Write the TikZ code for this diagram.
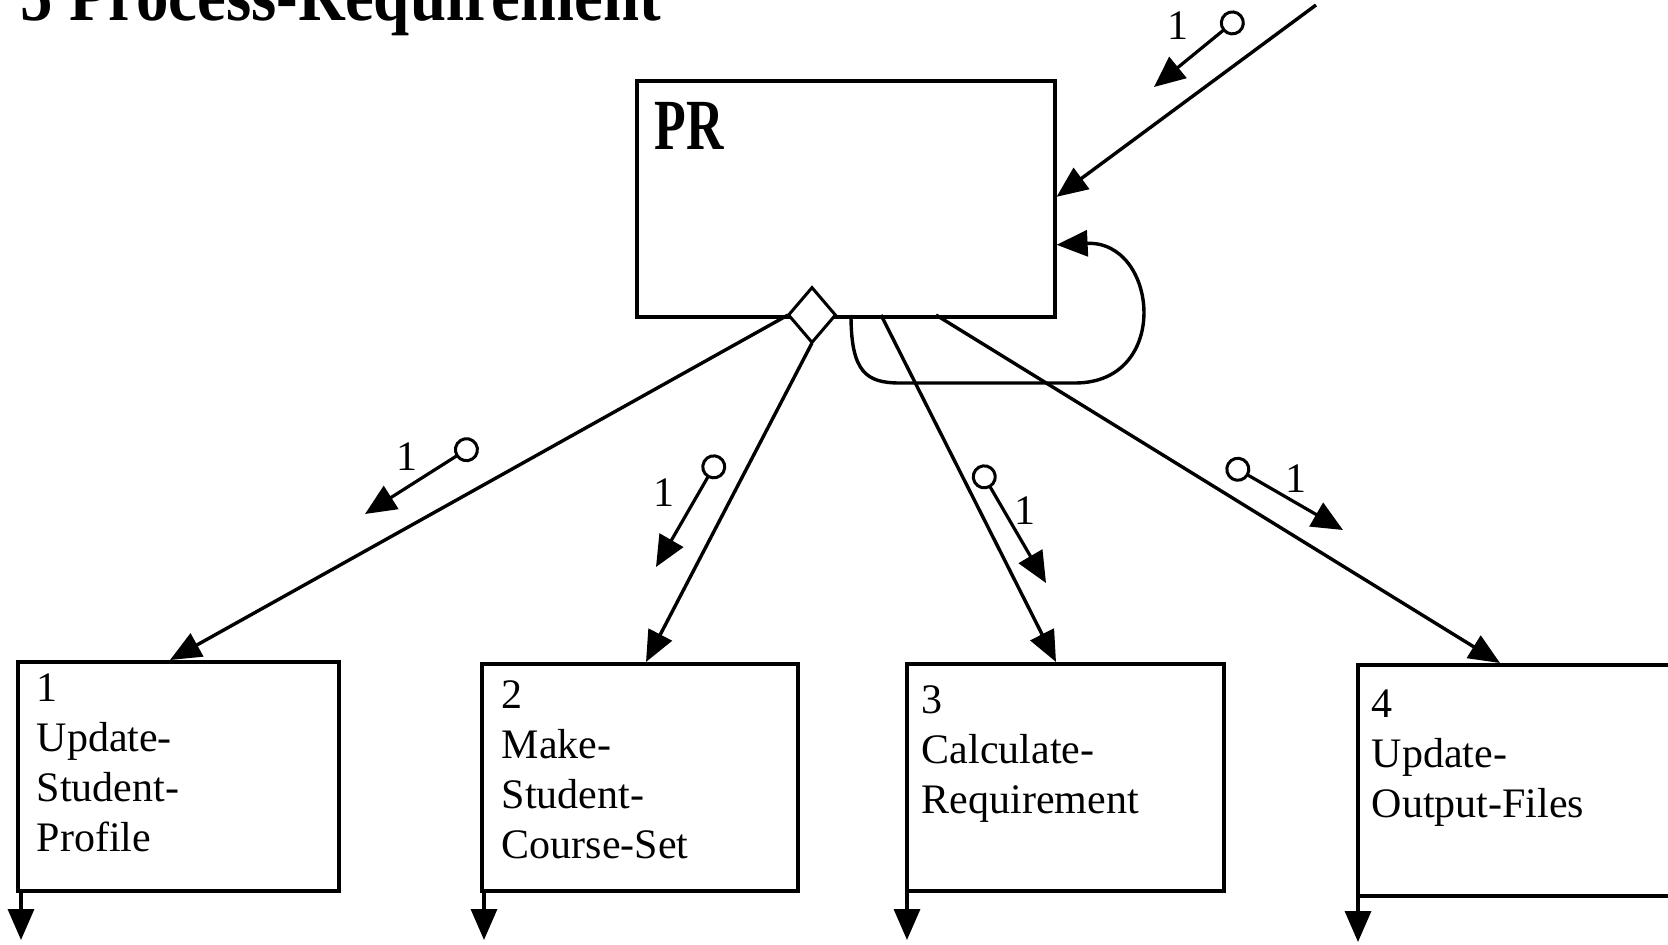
\documentclass[tikz,border=0pt]{standalone}
\usepackage{fontspec}
\setmainfont{Liberation Serif}
\usepackage{graphicx}
\usetikzlibrary{arrows.meta,shapes.geometric,calc}

\begin{document}
\begin{tikzpicture}[x=1pt,y=-1pt,
  line width=3.4pt,
  conn/.style={-{Triangle[length=31pt,width=26pt]}},
  flag/.style={{Circle[open,length=25pt,width=25pt,line width=3pt]}-{Triangle[length=31pt,width=27pt]},line width=3.2pt},
  box/.style={draw,line width=3.6pt,rectangle,anchor=north west,inner sep=0pt},
  boxtext/.style={anchor=base west,align=left,inner sep=0pt,font=\fontsize{42}{50}\selectfont},
  mult/.style={font=\fontsize{42}{42}\selectfont,inner sep=0pt},
  heading/.style={anchor=base west,inner sep=0pt,font=\bfseries\fontsize{72}{72}\selectfont}
]
\path[use as bounding box,clip] (0,0) rectangle (1668,945);
\fill[white] (0,0) rectangle (1668,945);

% title, partly above the page edge
\node[heading] (title) at (19,20) {\scalebox{0.9}[1]{5 Process-Requirement}};

% parent process
\node[box,minimum width=418pt,minimum height=236pt] (pr) at (635,79) {};
\node[heading] (prlabel) at (653,149) {\scalebox{0.72}[1]{PR}};

% child processes
\node[box,minimum width=321pt,minimum height=229pt] (b1) at (16,660) {};
\node[box,minimum width=316pt,minimum height=227pt] (b2) at (480,662) {};
\node[box,minimum width=317pt,minimum height=227pt] (b3) at (905,662) {};
\node[box,minimum width=344pt,minimum height=231pt] (b4) at (1356,663) {};

% labels: the base anchor sits on the last line
\node[boxtext] (t1) at (35,851) {1\\Update-\\Student-\\Profile};
\node[boxtext] (t2) at (500,858) {2\\Make-\\Student-\\Course-Set};
\node[boxtext] (t3) at (920,813) {3\\Calculate-\\Requirement};
\node[boxtext] (t4) at (1370,817) {4\\Update-\\Output-Files};

% connection points on the parent
\coordinate (l3) at (881,315);
\coordinate (l4) at (936,315);
\coordinate (lp) at (851,315);
\coordinate (src) at (1316,5);
\coordinate (dw) at (788,315);
\coordinate (ds) at (812,343);

% decomposition lines
\draw[conn] (dw) -- ([xshift=154pt]b1.north west);
\draw[conn] (ds) -- ([xshift=166pt]b2.north west);
\draw[conn] (l3) -- ([xshift=151pt]b3.north west);
\draw[conn] (l4) -- ([xshift=144pt]b4.north west);

% iteration loop and incoming message
\draw[conn] (lp) .. controls (851,372) and (866,383) .. (900,383) -- (1075,383)
  .. controls (1172,383) and (1158,240) .. ([yshift=-46pt]pr.east);
\draw[conn] (src) -- ([yshift=2pt]pr.east);

% selection diamond
\node[draw,diamond,fill=white,minimum width=48pt,minimum height=56pt,inner sep=0pt,line width=3pt] (dia) at (812,315) {};

% cardinality flags
\coordinate (f0a) at (1242,15);  \coordinate (f0b) at (1154,87);
\coordinate (f1a) at (477,443);  \coordinate (f1b) at (365,514);
\coordinate (f2a) at (720,456);  \coordinate (f2b) at (656,567);
\coordinate (f3a) at (978,466);  \coordinate (f3b) at (1046,583);
\coordinate (f4a) at (1227,463); \coordinate (f4b) at (1343,530);
\draw[flag] (f0a) -- (f0b);
\draw[flag] (f1a) -- (f1b);
\draw[flag] (f2a) -- (f2b);
\draw[flag] (f3a) -- (f3b);
\draw[flag] (f4a) -- (f4b);
\node[mult] (m0) at (1178,26) {1};
\node[mult] (m1) at (407,457) {1};
\node[mult] (m2) at (664,493) {1};
\node[mult] (m3) at (1025,511) {1};
\node[mult] (m4) at (1296,479) {1};

% outputs below each child
\coordinate (o1) at (21,940);
\coordinate (o2) at (484,940);
\coordinate (o3) at (907,940);
\coordinate (o4) at (1358,942);
\draw[conn] (b1.south west -| o1) -- (o1);
\draw[conn] (b2.south west -| o2) -- (o2);
\draw[conn] (b3.south west -| o3) -- (o3);
\draw[conn] (b4.south west -| o4) -- (o4);
\end{tikzpicture}
\end{document}
